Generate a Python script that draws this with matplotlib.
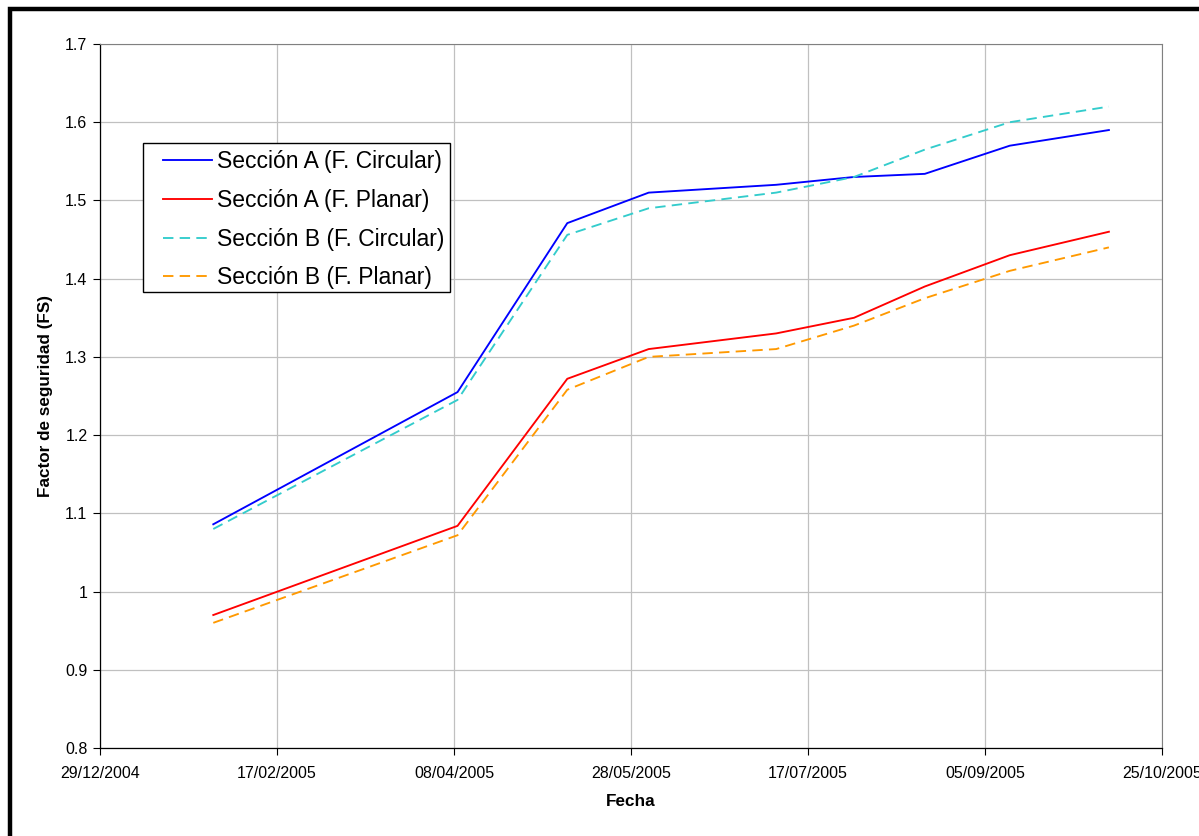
import datetime as dt

import matplotlib

matplotlib.use("Agg")
import matplotlib.dates as mdates
import matplotlib.pyplot as plt
import matplotlib.ticker as mticker
from matplotlib.patches import Rectangle

plt.rcParams["font.family"] = ["Liberation Sans", "DejaVu Sans"]
plt.rcParams["lines.scale_dashes"] = False

# --- data ---
fechas = ["30/01/2005", "09/04/2005", "10/05/2005", "02/06/2005", "08/07/2005",
          "30/07/2005", "19/08/2005", "12/09/2005", "10/10/2005"]
sec_a_circular = [1.086, 1.255, 1.471, 1.510, 1.520, 1.530, 1.534, 1.570, 1.590]
sec_a_planar = [0.970, 1.084, 1.272, 1.310, 1.330, 1.350, 1.390, 1.430, 1.460]
sec_b_circular = [1.080, 1.245, 1.456, 1.490, 1.510, 1.530, 1.565, 1.600, 1.620]
sec_b_planar = [0.960, 1.072, 1.258, 1.300, 1.310, 1.340, 1.375, 1.410, 1.440]

x_start = dt.datetime(2004, 12, 29)
x_end = dt.datetime(2005, 10, 25)

x = [dt.datetime.strptime(f, "%d/%m/%Y") for f in fechas]

W, H = 1199, 836
AX_L, AX_R, AX_T, AX_B = 100, 1162, 44, 748
AW, AH = AX_R - AX_L, AX_B - AX_T

fig = plt.figure(figsize=(W / 100, H / 100), dpi=100)
ax = fig.add_axes([AX_L / W, 1 - AX_B / H, AW / W, AH / H])

ax.plot(x, sec_a_circular, color="#0000FF", lw=1.35, label="Sección A (F. Circular)")
ax.plot(x, sec_a_planar, color="#FF0000", lw=1.35, label="Sección A (F. Planar)")
ax.plot(x, sec_b_circular, color="#33CCCC", lw=1.35, dashes=(7.5, 4.5), label="Sección B (F. Circular)")
ax.plot(x, sec_b_planar, color="#FF9900", lw=1.35, dashes=(7.5, 4.5), label="Sección B (F. Planar)")

ax.set_xlim(x_start, x_end)
ax.set_ylim(0.8, 1.7)
ticks = [x_start + dt.timedelta(days=50 * k) for k in range(7)]
ax.set_xticks(ticks)
ax.xaxis.set_major_formatter(mdates.DateFormatter("%d/%m/%Y"))
ax.yaxis.set_major_locator(mticker.MultipleLocator(0.1))
ax.yaxis.set_major_formatter(mticker.FuncFormatter(lambda v, p: f"{v:g}"))
ax.tick_params(labelsize=11.5, length=5, width=0.8, direction="out", pad=4)
ax.tick_params(axis="x", pad=8)

ax.grid(True, color="#c0c0c0", lw=0.9)
ax.set_axisbelow(True)
for s in ("top", "right"):
    ax.spines[s].set_color("#808080")
for s in ("left", "bottom"):
    ax.spines[s].set_color("black")
    ax.spines[s].set_linewidth(0.9)

ax.set_xlabel("Fecha", fontsize=12.3, fontweight="bold", labelpad=9)
ax.set_ylabel("Factor de seguridad (FS)", fontsize=12.3, fontweight="bold", labelpad=9)

# legend box (drawn by hand to get Excel's uneven padding)
bx0, bx1, by0, by1 = 143, 450, 143, 292
ax.add_patch(Rectangle(((bx0 - AX_L) / AW, (AX_B - by1) / AH), (bx1 - bx0) / AW, (by1 - by0) / AH,
                       transform=ax.transAxes, facecolor="white", edgecolor="black", lw=1.0,
                       zorder=4.9, clip_on=False))
ax.legend(loc="upper left", bbox_to_anchor=((163 - AX_L) / AW, (AX_B - 150) / AH), borderaxespad=0,
          borderpad=0, fontsize=16.5, handlelength=2.15, handletextpad=0.22, labelspacing=0.69,
          frameon=False)

# outer chart frame
fig.patches.append(Rectangle((10 / W, -0.1), 1.2, 1 - 9 / H + 0.1, transform=fig.transFigure,
                             fill=False, edgecolor="black", lw=3.2))

fig.savefig("out.png", dpi=100)
